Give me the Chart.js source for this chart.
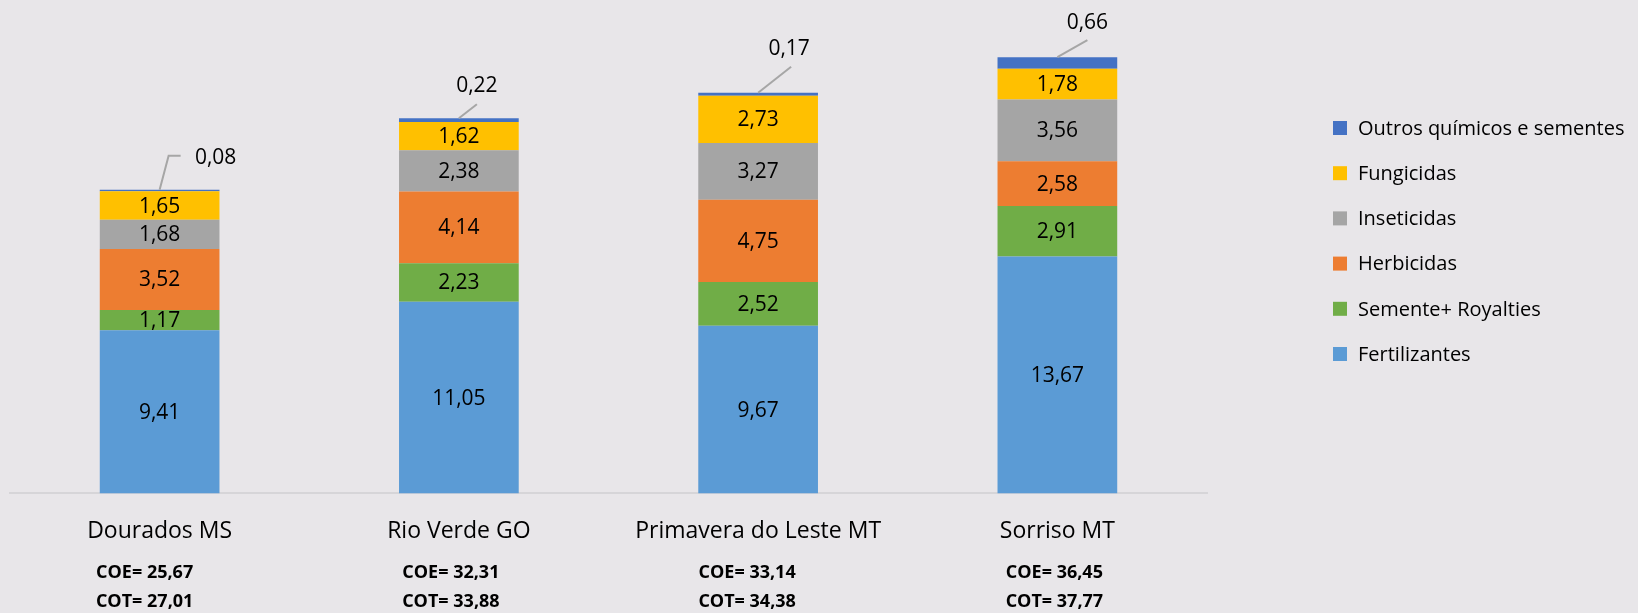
<!DOCTYPE html>
<html>
<head>
<meta charset="utf-8">
<script src="https://cdn.jsdelivr.net/npm/chart.js@4.4.0/dist/chart.umd.min.js"></script>
<style>
  html, body { margin: 0; padding: 0; background: #e8e6e9; }
  #wrap { width: 1638px; height: 613px; }
</style>
</head>
<body>
<div id="wrap"><canvas id="chart" width="1638" height="613"></canvas></div>
<script>
// Custo por região (R$/sc)
const regions = ["Dourados MS", "Rio Verde GO", "Primavera do Leste MT", "Sorriso MT"];
const fertilizantes = [9.41, 11.05, 9.67, 13.67];
const sementes = [1.17, 2.23, 2.52, 2.91];
const herbicidas = [3.52, 4.14, 4.75, 2.58];
const inseticidas = [1.68, 2.38, 3.27, 3.56];
const fungicidas = [1.65, 1.62, 2.73, 1.78];
const outros = [0.08, 0.22, 0.17, 0.66];
const coe = [25.67, 32.31, 33.14, 36.45];
const cot = [27.01, 33.88, 34.38, 37.77];

const fmt = (v) => v.toFixed(2).replace(".", ",");
const FONT = "'Open Sans', 'Noto Sans', sans-serif";

// leader lines for the small "Outros" values (offsets from top of bar)
const callouts = [
  { line: [[9, -34], [21, -34]], text: [56, -32] },
  { line: [[18, -14]], text: [18, -32] },
  { line: [[33, -26]], text: [31, -44] },
  { line: [[30, -17]], text: [30, -34] },
];
const coeShift = [-15, -8, -11, -3];

const labelsPlugin = {
  id: "labels",
  afterDatasetsDraw(chart) {
    const ctx = chart.ctx;
    ctx.save();
    ctx.font = "21px " + FONT;
    ctx.fillStyle = "#000";
    ctx.textAlign = "center";
    ctx.textBaseline = "middle";
    chart.data.datasets.forEach((ds, di) => {
      const meta = chart.getDatasetMeta(di);
      meta.data.forEach((el, i) => {
        if (di < 5) {
          ctx.fillText(fmt(ds.data[i]), el.x, (el.y + el.base) / 2 + 1);
        } else {
          const c = callouts[i];
          ctx.strokeStyle = "#a6a6a6";
          ctx.lineWidth = 2;
          ctx.beginPath();
          ctx.moveTo(el.x, el.y);
          c.line.forEach((p) => ctx.lineTo(el.x + p[0], el.y + p[1]));
          ctx.stroke();
          ctx.fillText(fmt(ds.data[i]), el.x + c.text[0], el.y + c.text[1]);
        }
      });
    });
    ctx.restore();
  },
  afterDraw(chart) {
    const ctx = chart.ctx;
    const x = chart.scales.x;
    ctx.save();
    ctx.fillStyle = "#000";
    ctx.textBaseline = "middle";
    ctx.textAlign = "center";
    ctx.font = "bold 18px " + FONT;
    regions.forEach((r, i) => {
      const px = x.getPixelForValue(i) + coeShift[i];
      ctx.fillText("COE= " + fmt(coe[i]), px, 573);
      ctx.fillText("COT= " + fmt(cot[i]), px, 602);
    });

    // legend, top to bottom in reverse stacking order
    ctx.textAlign = "left";
    ctx.font = "20px " + FONT;
    const items = chart.data.datasets.slice().reverse();
    items.forEach((ds, k) => {
      const y = 128 + k * 45.2;
      ctx.fillStyle = ds.backgroundColor;
      ctx.fillRect(1333, y - 7, 14, 14);
      ctx.fillStyle = "#000";
      ctx.fillText(ds.label, 1358, y + 1);
    });
    ctx.restore();
  },
};

new Chart(document.getElementById("chart"), {
  type: "bar",
  data: {
    labels: regions,
    datasets: [
      { label: "Fertilizantes", data: fertilizantes, backgroundColor: "#5b9bd5" },
      { label: "Semente+ Royalties", data: sementes, backgroundColor: "#70ad47" },
      { label: "Herbicidas", data: herbicidas, backgroundColor: "#ed7d31" },
      { label: "Inseticidas", data: inseticidas, backgroundColor: "#a5a5a5" },
      { label: "Fungicidas", data: fungicidas, backgroundColor: "#ffc000" },
      { label: "Outros químicos e sementes", data: outros, backgroundColor: "#4472c4" },
    ],
  },
  options: {
    responsive: false,
    animation: false,
    layout: { padding: { left: 10, right: 431, top: 8, bottom: 44 } },
    datasets: { bar: { categoryPercentage: 1, barPercentage: 0.4 } },
    plugins: { legend: { display: false }, tooltip: { enabled: false } },
    scales: {
      x: {
        stacked: true,
        grid: { display: false, drawTicks: false },
        border: { display: true, color: "#d6d5d8", width: 2 },
        ticks: { color: "#000", font: { family: FONT, size: 23 }, padding: 24 },
      },
      y: {
        stacked: true,
        display: false,
        min: 0,
        max: 28,
      },
    },
  },
  plugins: [labelsPlugin],
});
</script>
</body>
</html>
